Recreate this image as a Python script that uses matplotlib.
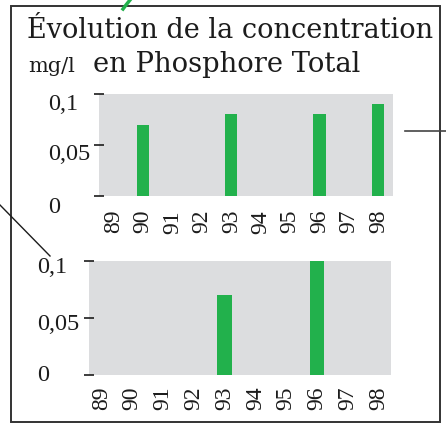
import matplotlib.pyplot as plt
import matplotlib.transforms as mtransforms
from matplotlib.lines import Line2D
from matplotlib.patches import Rectangle

# concentrations en phosphore total (mg/l) par année
years = [89, 90, 91, 92, 93, 94, 95, 96, 97, 98]
station_haut = [0, 0.07, 0, 0, 0.08, 0, 0, 0.08, 0, 0.09]
station_bas = [0, 0, 0, 0, 0.07, 0, 0, 0.10, 0, 0]
yticks = [0, 0.05, 0.1]
ytick_labels = ['0', '0,05', '0,1']

W, H = 446, 428
green = '#22b14c'
grey = '#dcdddf'
ink = '#1c1c1c'
titre_font = ['DejaVu Serif']
chiffres_font = ['Liberation Serif', 'DejaVu Serif']

fig = plt.figure(figsize=(W / 100, H / 100), dpi=100)


def box(x0, y0, x1, y1):
    # pixels (origine en haut à gauche) -> coordonnées figure
    return [x0 / W, 1 - y1 / H, (x1 - x0) / W, (y1 - y0) / H]


def panel(rect, values, xlim, width, label_x, label_dy, xpad):
    ax = fig.add_axes(box(*rect))
    ax.set_facecolor(grey)
    ax.bar(years, values, width=width, color=green)
    ax.set_xlim(*xlim)
    ax.set_ylim(0, 0.1)
    for s in ax.spines.values():
        s.set_visible(False)
    ax.set_xticks(years)
    ax.set_xticklabels([str(y) for y in years], rotation=90, fontsize=17,
                       color=ink, family=chiffres_font)
    ax.tick_params(axis='x', length=0, pad=xpad)
    ax.set_yticks(yticks)
    ax.set_yticklabels(ytick_labels, fontsize=17.5, color=ink,
                       family=chiffres_font)
    ax.tick_params(axis='y', direction='inout', length=7, width=1.2,
                   color=ink, pad=0)
    for lab, dy in zip(ax.get_yticklabels(), label_dy):
        lab.set_horizontalalignment('left')
        off = mtransforms.ScaledTranslation((label_x - rect[0] + 4.9) / 100,
                                            -dy / 100, fig.dpi_scale_trans)
        lab.set_transform(lab.get_transform() + off)
    ax.set_axisbelow(False)
    return ax


panel((99, 94, 393, 196), station_haut, (88.5, 98.5), 0.42, 48, [9, 7, 8], 10)
panel((89, 261, 391, 375), station_bas, (88.6, 98.4), 0.48, 37, [-2, 4, 4], 8.5)

# titre
fig.text(27 / W, 1 - 38 / H, 'Évolution de la concentration', fontsize=19.5,
         color=ink, va='baseline', ha='left', family=titre_font)
fig.text(93 / W, 1 - 72 / H, 'en Phosphore Total', fontsize=19.7,
         color=ink, va='baseline', ha='left', family=titre_font)
fig.text(28 / W, 1 - 72 / H, 'mg/l', fontsize=15,
         color=ink, va='baseline', ha='left', family=titre_font)

# cadre
fig.patches.append(Rectangle((11 / W, 1 - 422 / H), (440 - 11) / W,
                             (422 - 6) / H, transform=fig.transFigure,
                             fill=False, edgecolor='#333333', linewidth=1.4))

# traits de renvoi vers la carte
fig.lines.append(Line2D([405 / W, 1], [1 - 131 / H, 1 - 131 / H],
                        transform=fig.transFigure, color='#444444', lw=1.2))
fig.lines.append(Line2D([0, 50 / W], [1 - 205 / H, 1 - 256 / H],
                        transform=fig.transFigure, color=ink, lw=1))
fig.lines.append(Line2D([123 / W, 126 / W, 130 / W], [1 - 9 / H, 1 - 5 / H, 1],
                        transform=fig.transFigure, color=green, lw=2.5))

fig.savefig('out.png', dpi=100)
